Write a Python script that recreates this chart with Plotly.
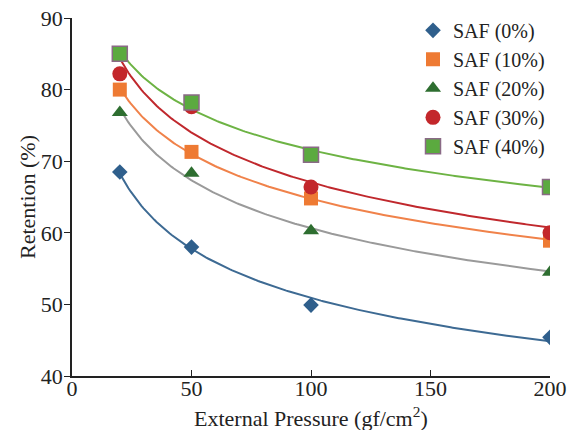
import numpy as np
import plotly.graph_objects as go

pressure = [20, 50, 100, 200]
names = ["SAF (0%)", "SAF (10%)", "SAF (20%)", "SAF (30%)", "SAF (40%)"]
saf0 = [68.5, 58.0, 49.9, 45.4]
saf10 = [80.0, 71.3, 64.8, 58.9]
saf20 = [76.8, 68.3, 60.3, 54.5]
saf30 = [82.2, 77.6, 66.4, 60.0]
saf40 = [85.0, 78.2, 70.9, 66.4]
x_ticks = [0, 50, 100, 150, 200]
y_ticks = [40, 50, 60, 70, 80, 90]

series = [saf0, saf10, saf20, saf30, saf40]
symbols = ["diamond", "square", "triangle-up", "circle", "square"]
mcolors = ["#2F5F8C", "#EE7A33", "#2E6E30", "#C3272B", "#5BAA3F"]
mline = ["#2F5F8C", "#EE7A33", "#2E6E30", "#C3272B", "#8A6A86"]
msizes = [12, 14, 14, 15, 15]
lcolors = ["#3D6A93", "#F0824A", "#9A9A9A", "#C0282D", "#6DB344"]

fig = go.Figure()
xs = np.linspace(20, 200, 200)
for vals, lc in zip(series, lcolors):
    b, ln_a = np.polyfit(np.log(pressure), np.log(vals), 1)
    ys = np.exp(ln_a) * xs ** b
    fig.add_trace(go.Scatter(x=xs, y=ys, mode="lines", line=dict(color=lc, width=2),
                             showlegend=False, hoverinfo="skip"))
for name, vals, sym, mc, ml, ms in zip(names, series, symbols, mcolors, mline, msizes):
    fig.add_trace(go.Scatter(x=pressure, y=vals, mode="markers", name=name,
                             marker=dict(symbol=sym, color=mc, size=ms,
                                         line=dict(color=ml, width=1.5 if ml != mc else 0))))

font = "Liberation Serif, Times New Roman, serif"
fig.update_layout(
    width=576, height=430,
    margin=dict(l=64, r=34, t=10, b=62, autoexpand=False),
    paper_bgcolor="white", plot_bgcolor="white",
    font=dict(family=font, color="#222", size=22),
    legend=dict(x=1.0, y=1.02, xanchor="right", yanchor="top",
                font=dict(family=font, size=20, color="#222"),
                bgcolor="rgba(0,0,0,0)", tracegroupgap=0, itemwidth=30),
    showlegend=True,
    annotations=[
        dict(text="External Pressure (gf/cm<sup>2</sup>)", xref="paper", yref="paper",
             x=0.5, y=0, xanchor="center", yanchor="top", yshift=-25, showarrow=False,
             font=dict(family=font, size=22, color="#222")),
        dict(text="Retention (%)", xref="paper", yref="paper", textangle=-90,
             x=0, y=0.5, xanchor="center", yanchor="middle", xshift=-45, showarrow=False,
             font=dict(family=font, size=22, color="#222")),
    ],
)
fig.update_xaxes(range=[0, 200], tickvals=x_ticks, showline=True, linecolor="#222", linewidth=1.5,
                 ticks="inside", ticklen=6, tickcolor="#222", showgrid=False, zeroline=False,
                 tickfont=dict(size=22), automargin=False, ticklabelstandoff=-8,
                 ticklabeloverflow="allow")
fig.update_yaxes(range=[40, 90], tickvals=y_ticks, showline=True, linecolor="#222", linewidth=1.5,
                 ticks="outside", ticklen=6, tickcolor="#222", showgrid=False, zeroline=False,
                 tickfont=dict(size=22), automargin=False, ticklabelstandoff=-3,
                 ticklabeloverflow="allow")
fig.write_html("out.html")
